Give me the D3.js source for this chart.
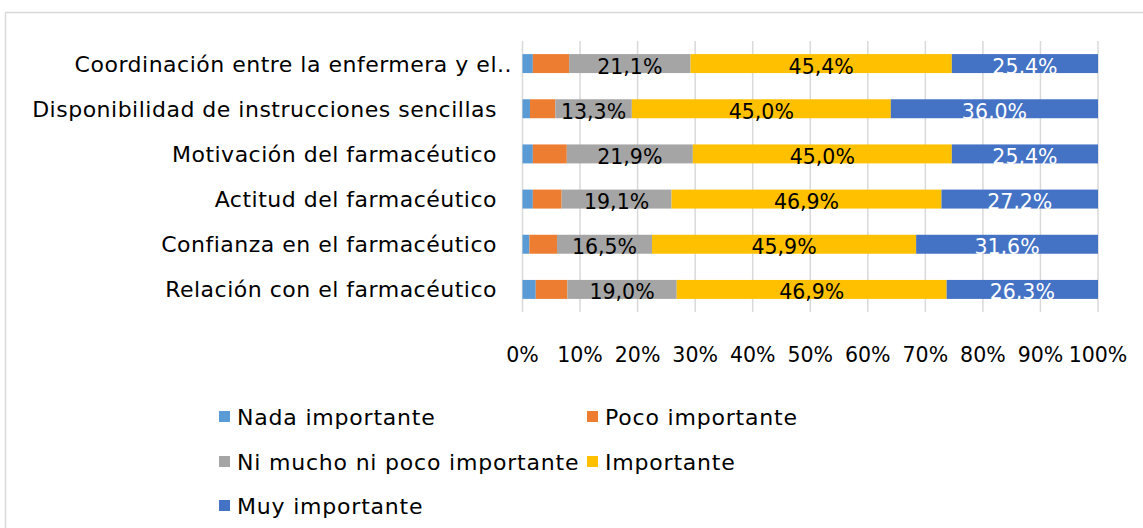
<!DOCTYPE html>
<html>
<head>
<meta charset="utf-8">
<script src="https://cdn.jsdelivr.net/npm/d3@7"></script>
<style>
  body { margin: 0; background: #fff; }
  svg { display: block; font-family: "DejaVu Sans", sans-serif; }
</style>
</head>
<body>
<svg id="chart" width="1143" height="528"></svg>
<script>
// data (percent)
const categories = [
  "Coordinación entre la enfermera y el..",
  "Disponibilidad de instrucciones sencillas",
  "Motivación del farmacéutico",
  "Actitud del farmacéutico",
  "Confianza en el farmacéutico",
  "Relación con el farmacéutico"
];
const seriesNames = ["Nada importante", "Poco importante", "Ni mucho ni poco importante", "Importante", "Muy importante"];
const nada = [1.8, 1.3, 1.8, 1.8, 1.2, 2.3];
const poco = [6.3, 4.4, 5.9, 5.0, 4.8, 5.5];
const niMucho = [21.1, 13.3, 21.9, 19.1, 16.5, 19.0];
const importante = [45.4, 45.0, 45.0, 46.9, 45.9, 46.9];
const muy = [25.4, 36.0, 25.4, 27.2, 31.6, 26.3];
const tickValues = [0, 10, 20, 30, 40, 50, 60, 70, 80, 90, 100];

const colors = ["#5b9bd5", "#ed7d31", "#a5a5a5", "#ffc000", "#4472c4"];
const labelColors = [null, null, "#000", "#000", "#fff"];

const svg = d3.select("#chart");

// chart frame
svg.append("rect")
  .attr("x", 5.5).attr("y", 12.5)
  .attr("width", 1160).attr("height", 540)
  .attr("fill", "none").attr("stroke", "#d9d9d9").attr("stroke-width", 1.5);

const x = d3.scaleLinear().domain([0, 100]).range([522.5, 1098]);
const y = d3.scaleBand().domain(categories).range([41, 312])
  .paddingInner(0.58).paddingOuter(0.29);

// gridlines
svg.append("g").selectAll("line")
  .data(tickValues)
  .join("line")
  .attr("x1", d => x(d)).attr("x2", d => x(d))
  .attr("y1", 41).attr("y2", 312)
  .attr("stroke", "#d9d9d9").attr("stroke-width", 1.5);

// stacked data
const rows = categories.map((c, i) => ({
  cat: c, vals: [nada[i], poco[i], niMucho[i], importante[i], muy[i]]
}));
const segs = [];
rows.forEach(r => {
  let acc = 0;
  r.vals.forEach((v, k) => {
    segs.push({ cat: r.cat, k: k, x0: acc, x1: acc + v, v: v });
    acc += v;
  });
});

svg.append("g").selectAll("rect")
  .data(segs)
  .join("rect")
  .attr("x", d => x(d.x0))
  .attr("width", d => x(d.x1) - x(d.x0))
  .attr("y", d => y(d.cat))
  .attr("height", y.bandwidth())
  .attr("fill", d => colors[d.k]);

const fmt = v => d3.format(".1f")(v).replace(".", ",") + "%";

svg.append("g").selectAll("text")
  .data(segs.filter(d => labelColors[d.k]))
  .join("text")
  .attr("x", d => (x(d.x0) + x(d.x1)) / 2)
  .attr("y", d => y(d.cat) + y.bandwidth() / 2 + 10)
  .attr("text-anchor", "middle")
  .attr("font-size", 20.5)
  .attr("fill", d => labelColors[d.k])
  .text(d => fmt(d.v));

// category labels
svg.append("g").selectAll("text")
  .data(categories)
  .join("text")
  .attr("x", (d, i) => i === 0 ? 512 : 497)
  .attr("y", d => y(d) + y.bandwidth() / 2 + 8)
  .attr("text-anchor", "end")
  .attr("font-size", 22)
  .attr("letter-spacing", 0.5)
  .attr("fill", "#000")
  .text(d => d);

// x axis tick labels
svg.append("g").selectAll("text")
  .data(tickValues)
  .join("text")
  .attr("x", d => x(d))
  .attr("y", 362)
  .attr("text-anchor", "middle")
  .attr("font-size", 20.5)
  .attr("fill", "#000")
  .text(d => d + "%");

// legend
const legendPos = [[219, 417], [587, 417], [219, 462], [587, 462], [219, 506]];
const lg = svg.append("g").selectAll("g")
  .data(seriesNames)
  .join("g")
  .attr("transform", (d, i) => `translate(${legendPos[i][0]},${legendPos[i][1]})`);
lg.append("rect")
  .attr("x", 0).attr("y", -6).attr("width", 11).attr("height", 11)
  .attr("fill", (d, i) => colors[i]);
lg.append("text")
  .attr("x", 18).attr("y", 8)
  .attr("font-size", 22)
  .attr("letter-spacing", 0.8)
  .attr("fill", "#000")
  .text(d => d);
</script>
</body>
</html>
